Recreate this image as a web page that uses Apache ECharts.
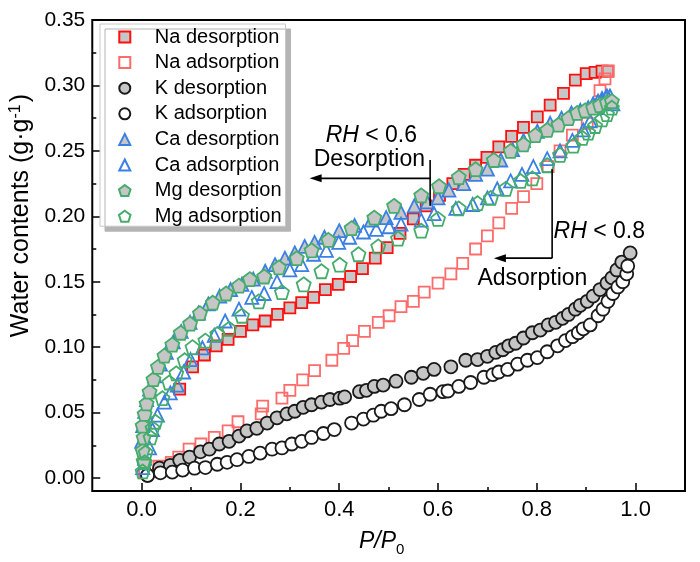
<!DOCTYPE html>
<html>
<head>
<meta charset="utf-8">
<script src="https://cdn.jsdelivr.net/npm/echarts@6/dist/echarts.min.js"></script>
<style>
  html, body { margin: 0; padding: 0; background: #fff; }
  #chart { width: 700px; height: 562px; }
</style>
</head>
<body>
<div id="chart"></div>
<script>
// isotherm data (x = P/P0, y = water content g/g)
const naDesX = [0.077,0.103,0.127,0.151,0.175,0.2,0.225,0.25,0.275,0.3,0.324,0.348,0.372,0.398,0.423,0.447,0.473,0.497,0.523,0.55,0.576,0.603,0.63,0.653,0.676,0.699,0.723,0.749,0.773,0.801,0.827,0.854,0.878,0.9,0.918,0.932,0.944];
const naDesY = [0.068,0.085,0.094,0.101,0.106,0.112,0.117,0.12,0.125,0.13,0.134,0.138,0.144,0.148,0.154,0.16,0.168,0.176,0.187,0.198,0.208,0.216,0.225,0.232,0.239,0.245,0.253,0.261,0.268,0.276,0.285,0.294,0.304,0.309,0.31,0.311,0.311];

const naAdsX = [0.006,0.035,0.06,0.075,0.096,0.12,0.147,0.175,0.195,0.242,0.245,0.284,0.3,0.326,0.35,0.385,0.409,0.427,0.451,0.479,0.501,0.525,0.55,0.572,0.6,0.626,0.65,0.676,0.7,0.723,0.749,0.773,0.8,0.823,0.847,0.872,0.902,0.928,0.938,0.944];
const naAdsY = [0.004,0.009,0.012,0.016,0.022,0.026,0.031,0.036,0.043,0.049,0.055,0.061,0.067,0.075,0.082,0.09,0.099,0.105,0.112,0.119,0.124,0.131,0.135,0.142,0.149,0.156,0.164,0.175,0.185,0.195,0.206,0.215,0.225,0.238,0.25,0.262,0.271,0.296,0.305,0.311];

const kDesX = [0.012,0.036,0.058,0.077,0.097,0.119,0.137,0.157,0.177,0.197,0.213,0.233,0.254,0.274,0.294,0.31,0.327,0.344,0.364,0.381,0.401,0.411,0.441,0.455,0.471,0.489,0.515,0.546,0.57,0.592,0.626,0.656,0.68,0.7,0.717,0.731,0.743,0.757,0.773,0.791,0.807,0.823,0.838,0.852,0.864,0.878,0.888,0.902,0.914,0.928,0.942,0.952,0.962,0.972,0.989];
const kDesY = [0.002,0.0075,0.0097,0.0135,0.016,0.02,0.022,0.026,0.028,0.032,0.036,0.038,0.042,0.046,0.049,0.051,0.054,0.056,0.058,0.06,0.061,0.062,0.066,0.067,0.07,0.071,0.074,0.077,0.08,0.083,0.085,0.09,0.0905,0.093,0.096,0.098,0.101,0.103,0.107,0.111,0.113,0.117,0.119,0.122,0.125,0.129,0.132,0.135,0.139,0.144,0.149,0.153,0.159,0.165,0.172];

const kAdsX = [0.012,0.038,0.062,0.083,0.107,0.129,0.153,0.173,0.193,0.217,0.24,0.264,0.284,0.304,0.324,0.344,0.368,0.39,0.425,0.449,0.469,0.485,0.505,0.532,0.562,0.584,0.61,0.62,0.642,0.666,0.693,0.711,0.723,0.741,0.761,0.781,0.801,0.821,0.842,0.858,0.872,0.884,0.894,0.908,0.924,0.934,0.944,0.954,0.964,0.974,0.982,0.984];
const kAdsY = [0.002,0.004,0.0045,0.006,0.0075,0.008,0.0105,0.012,0.014,0.0165,0.019,0.022,0.023,0.026,0.028,0.031,0.034,0.037,0.042,0.045,0.048,0.051,0.053,0.056,0.06,0.064,0.066,0.0665,0.07,0.073,0.077,0.079,0.081,0.083,0.087,0.09,0.092,0.0965,0.101,0.105,0.108,0.111,0.114,0.117,0.124,0.129,0.135,0.141,0.146,0.15,0.156,0.162];

const caDesX = [0.0,0.002,0.006,0.01,0.016,0.026,0.038,0.05,0.064,0.08,0.098,0.115,0.135,0.158,0.18,0.203,0.226,0.25,0.27,0.29,0.31,0.33,0.35,0.37,0.4,0.431,0.465,0.495,0.525,0.552,0.578,0.6,0.622,0.652,0.676,0.7,0.727,0.751,0.773,0.801,0.827,0.85,0.87,0.888,0.904,0.914,0.924,0.932,0.94,0.948];
const caDesY = [0.028,0.04,0.051,0.06,0.068,0.078,0.087,0.096,0.104,0.112,0.119,0.126,0.133,0.139,0.144,0.148,0.152,0.158,0.163,0.168,0.172,0.177,0.18,0.184,0.189,0.193,0.197,0.199,0.203,0.208,0.211,0.214,0.22,0.225,0.232,0.236,0.243,0.251,0.258,0.265,0.271,0.275,0.279,0.281,0.283,0.286,0.288,0.29,0.291,0.292];

const caAdsX = [0.002,0.006,0.016,0.022,0.032,0.046,0.058,0.072,0.085,0.099,0.123,0.147,0.169,0.197,0.223,0.248,0.274,0.3,0.324,0.348,0.374,0.399,0.421,0.449,0.475,0.501,0.525,0.566,0.592,0.636,0.67,0.7,0.72,0.747,0.77,0.793,0.821,0.847,0.872,0.894,0.908,0.922,0.932,0.942,0.954];
const caAdsY = [0.008,0.015,0.023,0.037,0.048,0.058,0.065,0.071,0.081,0.0905,0.0995,0.109,0.12,0.129,0.138,0.141,0.15,0.159,0.163,0.171,0.174,0.18,0.184,0.188,0.19,0.192,0.194,0.197,0.202,0.206,0.209,0.214,0.221,0.227,0.232,0.238,0.244,0.25,0.258,0.266,0.273,0.283,0.288,0.292,0.286];

const mgDesX = [0.004,0.002,0.004,0.002,0.006,0.01,0.016,0.024,0.033,0.046,0.062,0.079,0.098,0.118,0.144,0.171,0.197,0.219,0.248,0.278,0.314,0.344,0.378,0.425,0.471,0.511,0.566,0.602,0.642,0.676,0.713,0.747,0.773,0.797,0.821,0.844,0.864,0.882,0.898,0.914,0.928,0.942,0.952];
const mgDesY = [0.013,0.021,0.031,0.04,0.049,0.057,0.066,0.0755,0.085,0.0935,0.102,0.111,0.118,0.126,0.134,0.141,0.147,0.152,0.154,0.161,0.168,0.174,0.182,0.191,0.199,0.208,0.216,0.223,0.23,0.236,0.243,0.25,0.255,0.262,0.266,0.27,0.275,0.279,0.281,0.283,0.285,0.287,0.288];

const mgAdsX = [0.002,0.006,0.008,0.018,0.022,0.028,0.042,0.056,0.07,0.087,0.103,0.129,0.153,0.177,0.203,0.237,0.284,0.328,0.364,0.401,0.439,0.479,0.519,0.566,0.6,0.642,0.68,0.707,0.737,0.767,0.791,0.821,0.847,0.874,0.892,0.904,0.918,0.932,0.942,0.952];
const mgAdsY = [0.005,0.012,0.0195,0.031,0.038,0.043,0.061,0.073,0.08,0.09,0.1,0.105,0.11,0.114,0.124,0.135,0.142,0.148,0.158,0.163,0.171,0.177,0.183,0.189,0.198,0.206,0.21,0.214,0.221,0.227,0.229,0.239,0.247,0.254,0.26,0.264,0.269,0.274,0.278,0.283];

const xMajor = [0, 0.2, 0.4, 0.6, 0.8, 1.0];
const xMinor = [0.1, 0.3, 0.5, 0.7, 0.9];
const yMajor = [0, 0.05, 0.1, 0.15, 0.2, 0.25, 0.3, 0.35];
const yMinor = [0.025, 0.075, 0.125, 0.175, 0.225, 0.275, 0.325];

const FONT = 'Arial, "Liberation Sans", sans-serif';
const GRAY = '#c6c6c6';
// path symbols keep their shape in the legend slots
const SQUARE = 'path://M0,0 L100,0 L100,100 L0,100 Z';
const TRIANGLE = 'path://M50,0 L100,100 L0,100 Z';
const PENTAGON = 'path://M50,0 L97.55,34.55 L79.39,90.45 L20.61,90.45 L2.45,34.55 Z';

function pairs(xs, ys) {
  return xs.map((x, i) => [x, ys[i]]);
}

function scatter(name, xs, ys, symbol, size, border, fill) {
  return {
    name: name,
    type: 'scatter',
    symbol: symbol,
    symbolSize: size,
    data: pairs(xs, ys),
    itemStyle: { color: fill, borderColor: border, borderWidth: 1.8, opacity: 1 },
    emphasis: { disabled: true },
    animation: false
  };
}

const chart = echarts.init(document.getElementById('chart'));

const ticks = (vals, len) => ({ show: true, inside: true, length: len, customValues: vals, lineStyle: { color: '#000', width: 1.5 } });
const noLine = { show: false, onZero: false };

chart.setOption({
  backgroundColor: '#fff',
  animation: false,
  grid: { left: 89, right: 15, top: 20, bottom: 61, show: true, borderColor: '#000', borderWidth: 2, backgroundColor: 'transparent' },
  xAxis: [{
    type: 'value', min: -0.1, max: 1.1,
    name: '{i|P/P}{sub|0}', nameLocation: 'middle', nameGap: 28,
    nameTextStyle: {
      padding: [0, 14, 0, 0],
      rich: {
        i: { fontFamily: FONT, fontSize: 23, fontStyle: 'italic', color: '#000', lineHeight: 30, verticalAlign: 'middle' },
        sub: { fontFamily: FONT, fontSize: 15, color: '#000', lineHeight: 30, verticalAlign: 'bottom', padding: [16, 0, 0, 0] }
      }
    },
    axisLine: noLine,
    splitLine: { show: false },
    axisTick: ticks(xMajor, 8),
    axisLabel: { customValues: xMajor, fontFamily: FONT, fontSize: 22, color: '#000', margin: 8, formatter: v => v.toFixed(1) }
  }, {
    type: 'value', min: -0.1, max: 1.1, position: 'bottom',
    axisLine: noLine, splitLine: { show: false },
    axisTick: ticks(xMinor, 4),
    axisLabel: { show: false }
  }],
  yAxis: [{
    type: 'value', min: -0.01, max: 0.35,
    name: 'Water contents (g·g{sup|-1})', nameLocation: 'middle', nameGap: 56,
    nameTextStyle: {
      fontFamily: FONT, fontSize: 25, color: '#000', padding: [0, 0, 0, 80],
      rich: {
        sup: { fontFamily: FONT, fontSize: 16, color: '#000', verticalAlign: 'top', padding: [0, 2, 10, 0] }
      }
    },
    axisLine: noLine,
    splitLine: { show: false },
    axisTick: ticks(yMajor, 8),
    axisLabel: { customValues: yMajor, fontFamily: FONT, fontSize: 21, color: '#000', margin: 7, formatter: v => v.toFixed(2) }
  }, {
    type: 'value', min: -0.01, max: 0.35, position: 'left',
    axisLine: noLine, splitLine: { show: false },
    axisTick: ticks(yMinor, 4),
    axisLabel: { show: false }
  }],
  legend: {
    orient: 'vertical', left: 100, top: 24,
    itemWidth: 50, itemHeight: 11, itemGap: 5.6,
    padding: [3, 4, 0, 18],
    backgroundColor: '#fff',
    borderColor: '#c8c8c8', borderWidth: 1,
    shadowColor: '#b4b4b4', shadowBlur: 0, shadowOffsetX: 5, shadowOffsetY: 5,
    textStyle: { fontFamily: FONT, fontSize: 20, color: '#000' },
    selectedMode: false
  },
  series: [
    scatter('Na desorption', naDesX, naDesY, SQUARE, 11, '#ff1010', GRAY),
    scatter('Na adsorption', naAdsX, naAdsY, SQUARE, 11, '#ff6a6a', 'rgba(255,255,255,0)'),
    scatter('K desorption', kDesX, kDesY, 'circle', 13, '#1a1a1a', GRAY),
    scatter('K adsorption', kAdsX, kAdsY, 'circle', 13, '#1a1a1a', '#fff'),
    scatter('Ca desorption', caDesX, caDesY, TRIANGLE, 13, '#3a7fe4', GRAY),
    scatter('Ca adsorption', caAdsX, caAdsY, TRIANGLE, 13, '#3a7fe4', 'rgba(255,255,255,0)'),
    scatter('Mg desorption', mgDesX, mgDesY, PENTAGON, 14, '#45ad6c', GRAY),
    scatter('Mg adsorption', mgAdsX, mgAdsY, PENTAGON, 14, '#45ad6c', 'rgba(255,255,255,0)')
  ]
});

// annotation arrows, placed in data coordinates
const px = p => chart.convertToPixel({ seriesIndex: 0 }, p);

function arrow(top, corner, bottom, tipX) {
  const a = px(top), b = px(corner), c = px(bottom), t = px([tipX, corner[1]]);
  return [
    { type: 'polyline', shape: { points: [a, c] }, style: { stroke: '#000', lineWidth: 1.6, fill: null }, z: 100 },
    { type: 'polyline', shape: { points: [b, [t[0] + 9, t[1]]] }, style: { stroke: '#000', lineWidth: 1.6, fill: null }, z: 100 },
    { type: 'polygon', shape: { points: [[t[0], t[1]], [t[0] + 12, t[1] - 4], [t[0] + 12, t[1] + 4]] }, style: { fill: '#000' }, z: 100 }
  ];
}

function label(p, text, align) {
  const q = px(p);
  return {
    type: 'text', x: q[0], y: q[1], z: 100,
    style: {
      text: text, fill: '#000', font: '23px ' + FONT, align: align, verticalAlign: 'middle',
      rich: { i: { fontStyle: 'italic', fontSize: 23, fontFamily: FONT, fill: '#000' } }
    }
  };
}

chart.setOption({
  graphic: [
    ...arrow([0.584, 0.243], [0.584, 0.229], [0.584, 0.208], 0.34),
    ...arrow([0.831, 0.236], [0.831, 0.168], [0.831, 0.168], 0.713),
    label([0.465, 0.262], '{i|RH} < 0.6', 'center'),
    label([0.461, 0.243], 'Desorption', 'center'),
    label([0.834, 0.188], '{i|RH} < 0.8', 'left'),
    label([0.791, 0.152], 'Adsorption', 'center')
  ]
});
</script>
</body>
</html>
